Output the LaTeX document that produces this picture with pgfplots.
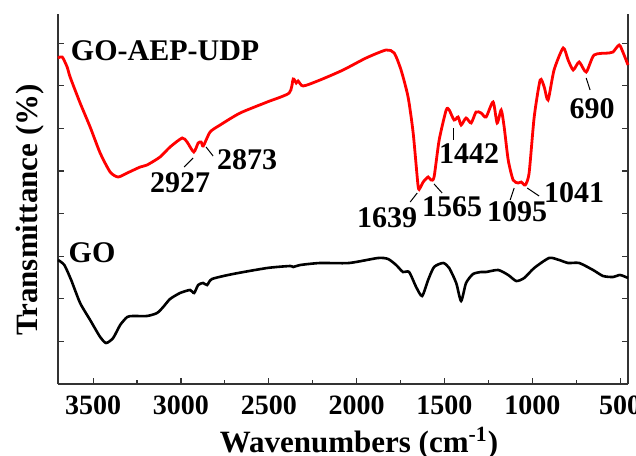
\documentclass[border=0pt]{standalone}
\usepackage{pgfplots}
\pgfplotsset{compat=1.18}
\usepackage{fontspec}
\setmainfont{Liberation Serif}
\begin{document}
\begin{tikzpicture}
\useasboundingbox (-29pt,-35.5pt) rectangle (289pt,192pt);
\begin{axis}[
  at={(0,0)}, anchor=south west,
  scale only axis, width=285pt, height=185pt,
  x dir=reverse, xmin=455, xmax=3700, ymin=0, ymax=370,
  axis x line*=bottom, x axis line style={-},
  axis line style={line width=0.6pt, black!80},
  tick align=inside,
  major tick length=3pt, minor tick length=1.8pt,
  tick style={line width=0.6pt, black!80},
  xtick={500,1000,...,3500}, minor x tick num=1,
  ytick={42.6,85.2,127.8,170.4,213,255.6,298.2,340.8}, yticklabels={},
  /pgf/number format/assume math mode=true,
  /pgf/number format/1000 sep={},
  xticklabel style={font=\bfseries\fontsize{14}{14}\selectfont, yshift=-2.3pt},
  xlabel={Wavenumbers (cm\textsuperscript{-1})},
  ylabel={Transmittance (\%)},
  label style={font=\bfseries\fontsize{15.5}{15.5}\selectfont},
  xlabel style={at={(axis description cs:0.528,0)}, anchor=base, yshift=-34pt},
  ylabel style={at={(axis description cs:-0.049,0.47)}, anchor=center},
  clip=false,
]
\addplot[red, line width=1.4pt, smooth, tension=0.4] coordinates {
(3700,326) (3676,327) (3648,317) (3631,307) (3574,281) (3517,257) (3460,231)
(3403,212) (3358,207) (3306,211) (3232,217) (3193,219) (3119,227) (3062,237)
(2993,246) (2965,242) (2927,232) (2902,241) (2885,242) (2873,238) (2834,252)
(2777,259) (2663,271) (2509,282) (2384,291) (2361,305) (2344,301) (2333,303)
(2304,298) (2208,304) (2077,314) (1946,326) (1832,334) (1786,331) (1747,314)
(1707,287) (1678,251) (1650,198) (1639,196) (1621,202) (1593,207) (1576,204)
(1559,207) (1530,244) (1490,274) (1473,274) (1445,264) (1422,267) (1405,259)
(1377,266) (1348,261) (1320,272) (1291,271) (1263,267) (1223,282) (1200,261)
(1177,274) (1160,257) (1137,224) (1109,204) (1080,201) (1063,202) (1040,199)
(1018,211) (989,267) (955,304) (932,297) (910,284) (876,314) (824,336)
(796,324) (767,314) (733,322) (693,312) (648,329) (562,331) (540,332)
(505,339) (482,331) (455,319)
};
\addplot[black, line width=1.3pt, smooth, tension=0.4] coordinates {
(3700,124) (3664,119) (3625,104) (3574,81) (3517,64) (3460,47) (3426,41)
(3386,46) (3346,59) (3306,67) (3272,68) (3193,68) (3136,71) (3101,77)
(3062,85) (3005,91) (2948,94) (2925,91) (2902,99) (2874,101) (2851,99)
(2823,105) (2704,110) (2509,116) (2378,118) (2361,117) (2321,119) (2208,121)
(2043,121) (1878,126) (1821,125) (1775,119) (1736,112) (1701,112) (1661,97)
(1627,88) (1593,104) (1559,117) (1507,121) (1473,116) (1433,101) (1405,83)
(1377,101) (1337,110) (1291,112) (1263,112) (1194,114) (1137,109) (1091,103)
(1046,106) (989,116) (904,126) (847,124) (796,121) (733,121) (654,114)
(597,108) (540,107) (500,109) (455,106)
};
\begin{scope}[font=\bfseries\fontsize{15}{15}\selectfont]
\node at (axis cs:3090,333) {GO-AEP-UDP};
\node at (axis cs:3506,131) {GO};
\end{scope}
\begin{scope}[font=\bfseries\fontsize{15}{15}\selectfont]
\node at (axis cs:3005,201) {2927};
\node at (axis cs:2623,224) {2873};
\node at (axis cs:1826,166) {1639};
\node at (axis cs:1456,177) {1565};
\node at (axis cs:1359,230) {1442};
\node at (axis cs:1086,172) {1095};
\node at (axis cs:762,191) {1041};
\node at (axis cs:659,275) {690};
\end{scope}
\begin{scope}[line width=0.5pt]
\draw (axis cs:2982,217) -- (axis cs:2931,226);
\draw (axis cs:2857,237) -- (axis cs:2817,228);
\draw (axis cs:1695,182) -- (axis cs:1655,191);
\draw (axis cs:1559,200) -- (axis cs:1513,191);
\draw (axis cs:1450,256) -- (axis cs:1450,244);
\draw (axis cs:1126,184) -- (axis cs:1103,196);
\draw (axis cs:1029,196) -- (axis cs:961,188);
\draw (axis cs:693,306) -- (axis cs:671,294);
\end{scope}
\end{axis}
\end{tikzpicture}
\end{document}
